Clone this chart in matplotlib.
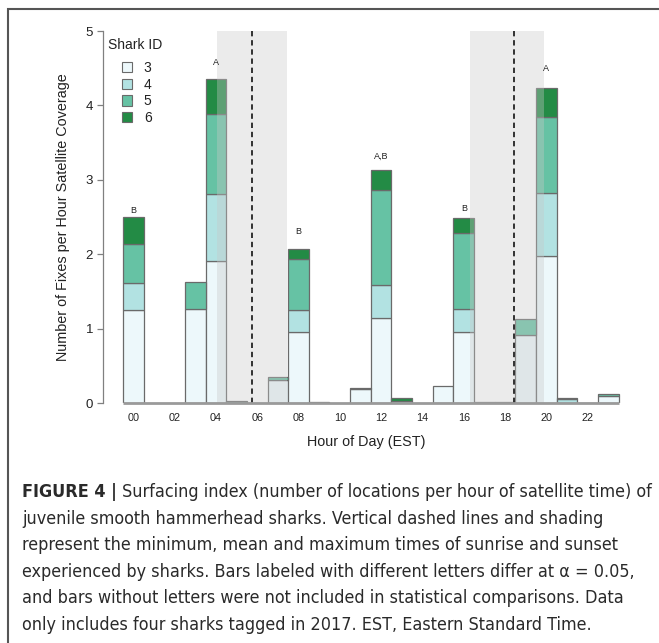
import matplotlib
matplotlib.use("Agg")
import matplotlib.pyplot as plt
import matplotlib.font_manager as fm
import numpy as np
from matplotlib.patches import Rectangle, Patch

# ---- data ----
hours = list(range(24))
shark3 = [1.25, 0, 0, 1.27, 1.91, 0, 0, 0.31, 0.95, 0, 0, 0.19, 1.14, 0, 0, 0.23, 0.95, 0, 0, 0.92, 1.97, 0, 0, 0.09]
shark4 = [0.36, 0, 0, 0, 0.90, 0, 0, 0, 0.30, 0, 0, 0, 0.45, 0.03, 0, 0, 0.31, 0, 0, 0, 0.85, 0.055, 0, 0]
shark5 = [0.53, 0, 0, 0.35, 1.07, 0.03, 0, 0.035, 0.68, 0, 0, 0, 1.27, 0, 0, 0, 1.03, 0.012, 0.01, 0.215, 1.03, 0, 0, 0.03]
shark6 = [0.36, 0, 0, 0, 0.47, 0, 0, 0, 0.146, 0.008, 0, 0.01, 0.27, 0.04, 0, 0, 0.19, 0, 0, 0, 0.38, 0.012, 0.006, 0]
shark_ids = ["3", "4", "5", "6"]
shark_colors = ["#edf8fb", "#b2e2e2", "#66c2a4", "#238b45"]

letter_hours = [0, 4, 8, 12, 16, 20]
letter_text = ["B", "A", "B", "A,B", "B", "A"]
letter_y = [2.59, 4.58, 2.30, 3.31, 2.61, 4.49]

sunrise = (4.57, 6.27, 7.96)   # min, mean, max
sunset = (16.80, 18.91, 20.40)

tick_hours = list(range(0, 24, 2))
tick_labels = ["%02d" % h for h in tick_hours]

caption_lines = [
    "Surfacing index (number of locations per hour of satellite time) of",
    "juvenile smooth hammerhead sharks. Vertical dashed lines and shading",
    "represent the minimum, mean and maximum times of sunrise and sunset",
    "experienced by sharks. Bars labeled with different letters differ at \u03b1 = 0.05,",
    "and bars without letters were not included in statistical comparisons. Data",
    "only includes four sharks tagged in 2017. EST, Eastern Standard Time.",
]

# ---- figure ----
W, H = 659, 643
fig = plt.figure(figsize=(W / 100, H / 100), dpi=100)
plt.rcParams['font.family'] = ['Liberation Sans', 'DejaVu Sans']

# outer frame
fig.patches.append(Rectangle((8 / W, -0.1), 2.0, 1 - 9 / H + 0.1, transform=fig.transFigure,
                             fill=False, edgecolor="#555555", linewidth=1.5))

x0_px, x1_px = 102.7, 629.0
y0_px, y1_px = 403.0, 31.0
ax = fig.add_axes([x0_px / W, 1 - y0_px / H, (x1_px - x0_px) / W, (y0_px - y1_px) / H])
ax.set_xlim(-0.98, 24.5)
ax.set_ylim(0, 5)

x = np.array(hours) + 0.5
bottom = np.zeros(24)
for vals, col in zip([shark3, shark4, shark5, shark6], shark_colors):
    v = np.array(vals)
    mask = v > 0
    ax.bar(x[mask], v[mask], width=1.0, bottom=bottom[mask], color=col,
           edgecolor="#6a6a6a", linewidth=0.9, zorder=2)
    bottom += v

# shading over bars
for lo, mid, hi in [sunrise, sunset]:
    ax.axvspan(lo, hi, ymin=0, ymax=1, color="#c8c8c8", alpha=0.36, lw=0, zorder=3)
    ax.axvline(mid, ymin=0, ymax=1, color="black", lw=1.1, ls=(0, (3.5, 2.5)), zorder=4)

# baseline
ax.plot([0, 24], [0, 0], color="#9a9a9a", lw=2.0, zorder=5, solid_capstyle="butt", clip_on=False)

for h, t, yv in zip(letter_hours, letter_text, letter_y):
    ax.text(h + 0.5, yv, t, ha="center", va="center", fontsize=6.5, color="#222222")

for s in ["top", "right", "bottom"]:
    ax.spines[s].set_visible(False)
ax.spines["left"].set_bounds(0, 5)
ax.spines["left"].set_color("#808080")
ax.spines["left"].set_linewidth(0.9)
ax.set_yticks(range(6))
ax.tick_params(axis="y", length=4, width=0.9, color="#808080", labelsize=9.5, pad=3, labelcolor="#222222")
ax.set_xticks(np.array(tick_hours) + 0.5)
ax.set_xticklabels(tick_labels)
ax.tick_params(axis="x", length=0, labelsize=7.8, pad=7, labelcolor="#222222")
ax.set_xlabel("Hour of Day (EST)", fontsize=10.4, labelpad=9, color="#222222")
ax.set_ylabel("Number of Fixes per Hour Satellite Coverage", fontsize=10.4, labelpad=11, color="#222222")

# legend
ax.text(-0.73, 4.81, "Shark ID", fontsize=10, ha="left", va="center", color="#222222")
handles = [Patch(facecolor=c, edgecolor="#6a6a6a", linewidth=0.8) for c in shark_colors]
leg = ax.legend(handles, shark_ids, loc="upper left", bbox_to_anchor=(0.036, 0.92), frameon=False,
                fontsize=10, handlelength=0.75, handleheight=0.75, handletextpad=0.85,
                labelspacing=0.2, borderaxespad=0, borderpad=0)
for t in leg.get_texts():
    t.set_color("#222222")

# caption font: prefer a narrow/condensed sans if installed
def pick(weight_bold):
    best = None
    for f in fm.fontManager.ttflist:
        nm = (f.name + " " + f.fname).lower()
        if ("narrow" in nm or "condensed" in nm) and "sans" in nm and f.style == "normal":
            isbold = (f.weight in (700, "bold")) or ("bold" in f.fname.lower())
            if isbold == weight_bold:
                if best is None or "liberation" in nm:
                    best = f
    return best

freg = pick(False)
fbold = pick(True)
if freg is not None:
    fp_reg = fm.FontProperties(fname=freg.fname)
    fp_bold = fm.FontProperties(fname=fbold.fname) if fbold is not None else fm.FontProperties(fname=freg.fname, weight="bold")
else:
    fp_reg = fm.FontProperties(family="Liberation Sans")
    fp_bold = fm.FontProperties(family="Liberation Sans", weight="bold")

cap_x = 22 / W
base_y = [497, 524, 550, 577, 603, 630]
# reference right ends of caption lines 2-6 (pixels)
ref_right = [614, 625, 640, 645, 557]

def draw_caption(size):
    fp_r = fp_reg.copy(); fp_r.set_size(size)
    fp_b = fp_bold.copy(); fp_b.set_size(size)
    arts = []
    t0 = fig.text(cap_x, 1 - base_y[0] / H, "FIGURE 4 | ", fontproperties=fp_b,
                  va="baseline", color="#2a2a2a")
    fig.canvas.draw()
    bb = t0.get_window_extent()
    t1 = fig.text(bb.x1 / W, 1 - base_y[0] / H, caption_lines[0], fontproperties=fp_r,
                  va="baseline", color="#2a2a2a")
    arts += [t0, t1]
    rest = []
    for line, yy in zip(caption_lines[1:], base_y[1:]):
        tt = fig.text(cap_x, 1 - yy / H, line, fontproperties=fp_r, va="baseline", color="#2a2a2a")
        arts.append(tt)
        rest.append(tt)
    fig.canvas.draw()
    widths = [r.get_window_extent().x1 - 22 for r in rest]
    return arts, t1.get_window_extent().x1, widths

size = 13.0
arts, right1, widths = draw_caption(size)
for a in arts:
    a.remove()
scale = np.mean([r - 22 for r in ref_right]) / np.mean(widths)
# keep line 1 inside the figure
scale = min(scale, (650 - 22) / (right1 - 22))
size = size * scale
arts, right1, widths = draw_caption(size)

fig.savefig("out.png", dpi=100)
